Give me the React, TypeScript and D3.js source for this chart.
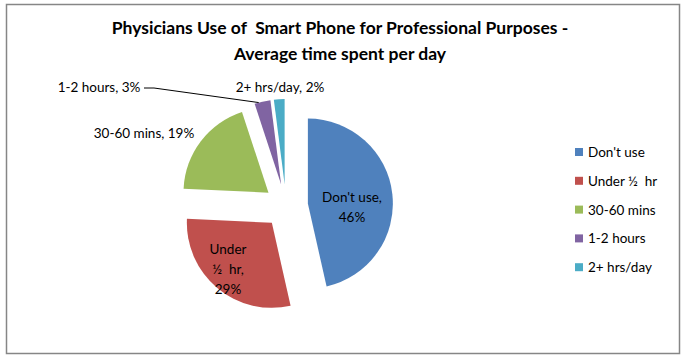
import { useEffect, useRef } from "react";
import * as d3 from "d3";

const categories = ["Don't use", "Under ½  hr", "30-60 mins", "1-2 hours", "2+ hrs/day"];
const shares = [46, 29, 19, 3, 2];
const sliceLabels = [
  ["Don't use,", "46%"],
  ["Under", "½  hr,", "29%"],
  ["30-60 mins, 19%"],
  ["1-2 hours, 3%"],
  ["2+ hrs/day, 2%"],
];
const colors = ["#4F81BD", "#C0504D", "#9BBB59", "#8064A2", "#4BACC6"];

const W = 686,
  H = 362,
  cx = 286,
  cy = 206,
  radius = 85,
  explode = 22,
  font = "Lato, 'Open Sans', sans-serif";

// where each label sits, relative to the pie centre
const labelSpots: { dx: number; dy: number }[] = [
  { dx: 66, dy: 1 },
  { dx: -58, dy: 63 },
  { dx: -142, dy: -73 },
  { dx: -187, dy: -119 },
  { dx: -6, dy: -119 },
];

export default function App() {
  const ref = useRef<SVGSVGElement>(null);

  useEffect(() => {
    const svg = d3.select(ref.current);
    svg.selectAll("*").remove();

    svg
      .append("rect")
      .attr("x", 6.5)
      .attr("y", 4.5)
      .attr("width", 673)
      .attr("height", 349)
      .attr("fill", "#fff")
      .attr("stroke", "#868686")
      .attr("stroke-width", 1.5);

    const title = svg
      .append("text")
      .attr("text-anchor", "middle")
      .attr("font-family", font)
      .attr("font-weight", "bold")
      .attr("font-size", 17.5)
      .attr("fill", "#000")
      .style("white-space", "pre");
    title.append("tspan").attr("x", 340).attr("y", 34).text("Physicians Use of  Smart Phone for Professional Purposes -");
    title.append("tspan").attr("x", 340).attr("y", 60).text("Average time spent per day");

    const pie = d3.pie<number>().sort(null).value((d) => d);
    const arcs = pie(shares);
    const arc = d3.arc<d3.PieArcDatum<number>>().innerRadius(0).outerRadius(radius);
    const mid = (d: d3.PieArcDatum<number>) => (d.startAngle + d.endAngle) / 2;

    const g = svg.append("g").attr("transform", `translate(${cx},${cy})`);

    g.selectAll("path")
      .data(arcs)
      .enter()
      .append("path")
      .attr("d", arc)
      .attr("fill", (_, i) => colors[i])
      .attr("transform", (d) => `translate(${explode * Math.sin(mid(d))},${-explode * Math.cos(mid(d))})`);

    // leader line for the small purple slice
    const p = arcs[3];
    const pa = mid(p);
    const ta = p.startAngle + 0.05;
    const tipX = explode * Math.sin(pa) + radius * Math.sin(ta);
    const tipY = -explode * Math.cos(pa) - radius * Math.cos(ta);
    const ls = labelSpots[3];
    g.append("polyline")
      .attr("points", `${ls.dx + 45},${ls.dy + 1} ${ls.dx + 55},${ls.dy + 1} ${tipX},${tipY}`)
      .attr("fill", "none")
      .attr("stroke", "#000")
      .attr("stroke-width", 1);

    sliceLabels.forEach((lines, i) => {
      const s = labelSpots[i];
      const t = g
        .append("text")
        .attr("text-anchor", "middle")
        .attr("font-family", font)
        .attr("font-size", 13.5)
        .attr("fill", "#000")
        .style("white-space", "pre");
      const y0 = s.dy - ((lines.length - 1) * 20) / 2;
      lines.forEach((ln, j) => {
        t.append("tspan")
          .attr("x", s.dx)
          .attr("y", y0 + j * 20 + 5)
          .text(ln);
      });
    });

    const legend = svg
      .append("g")
      .attr("transform", "translate(575,152)")
      .selectAll("g")
      .data(categories)
      .enter()
      .append("g")
      .attr("transform", (_, i) => `translate(0,${i * 28.8})`);
    legend
      .append("rect")
      .attr("x", 0)
      .attr("y", -4)
      .attr("width", 8)
      .attr("height", 8)
      .attr("fill", (_, i) => colors[i]);
    legend
      .append("text")
      .attr("x", 13)
      .attr("y", 5)
      .attr("font-family", font)
      .attr("font-size", 13.5)
      .attr("fill", "#000")
      .style("white-space", "pre")
      .text((d) => d);
  }, []);

  return (
    <svg
      ref={ref}
      width={W}
      height={H}
      style={{ position: "absolute", left: 0, top: 0, display: "block" }}
    />
  );
}
